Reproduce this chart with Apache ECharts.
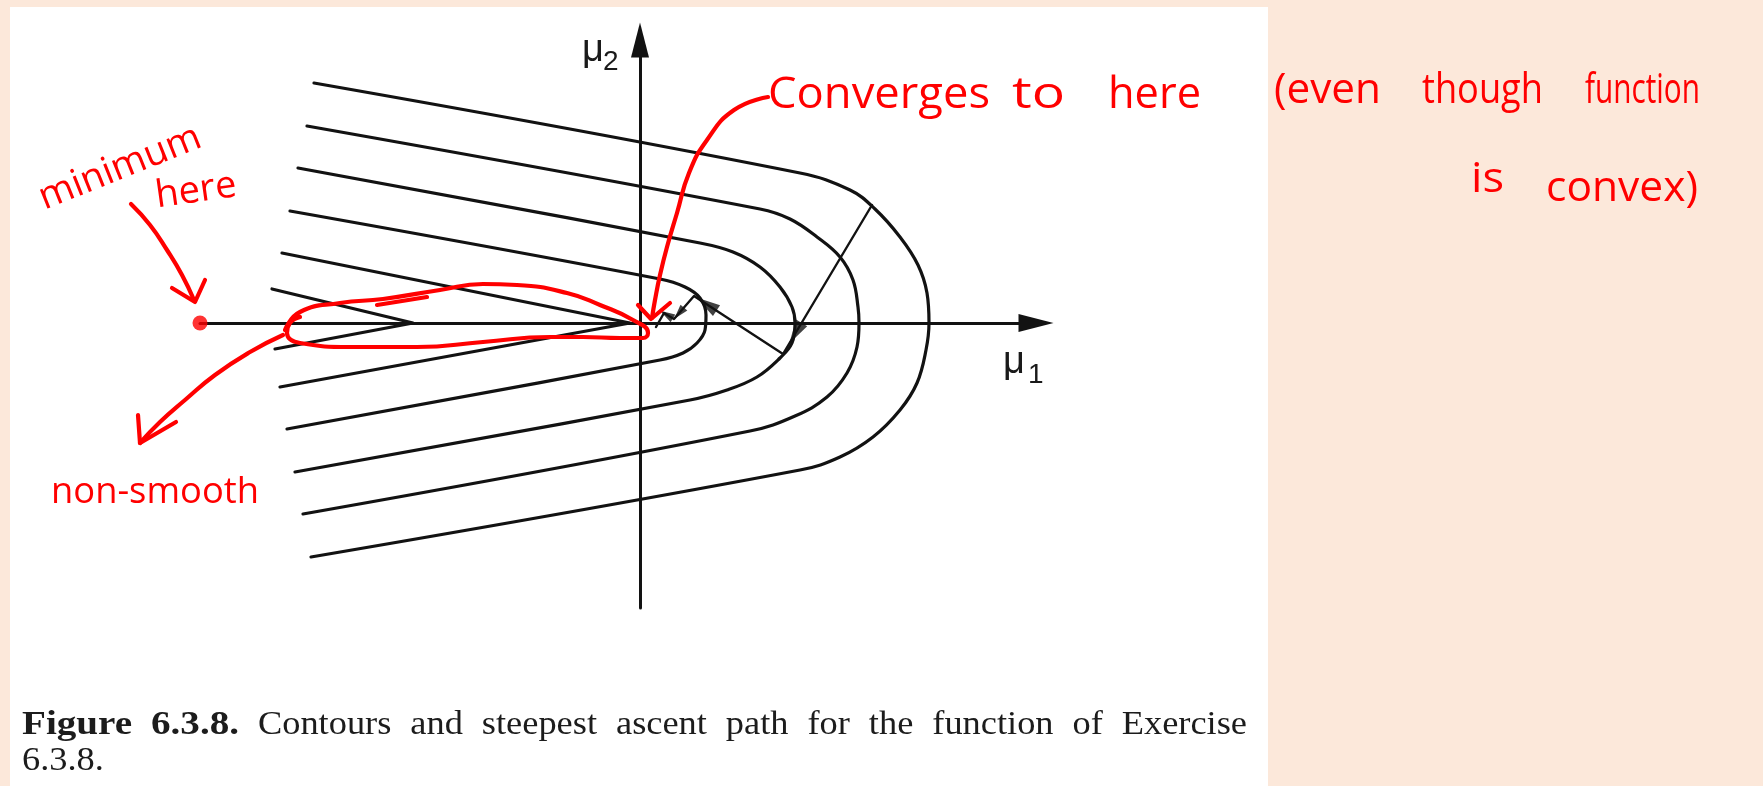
<!DOCTYPE html>
<html>
<head>
<meta charset="utf-8">
<script src="https://cdn.jsdelivr.net/npm/echarts@6/dist/echarts.min.js"></script>
<style>
  html, body { margin: 0; padding: 0; background: #fce8da; }
  #main { width: 1763px; height: 786px; }
</style>
</head>
<body>
<div id="main"></div>
<script>
// Level curves of the objective, outermost first, as [mu1, mu2] pairs.
const contour1 = [[-32.6, 24.0], [16.0, 15.0], [21.0, 13.3], [23.5, 11.4], [26.0, 8.6], [27.8, 5.8], [28.7, 3.0],
  [28.9, 0], [28.6, -2.7], [27.7, -6.0], [26.0, -8.7], [23.3, -11.4], [20.0, -13.4], [16.0, -14.7], [-32.9, -23.4]];
const contour2 = [[-33.3, 19.7], [12.0, 11.4], [15.0, 10.4], [17.7, 8.6], [20.0, 6.6], [21.3, 4.3], [21.8, 1.6],
  [21.9, 0], [21.7, -2.4], [20.7, -5.0], [18.7, -7.4], [15.5, -9.3], [11.0, -10.8], [-33.7, -19.1]];
const contour3 = [[-34.2, 15.5], [6.0, 8.0], [9.3, 7.1], [12.0, 5.6], [14.0, 3.6], [15.2, 1.6], [15.5, 0],
  [15.2, -2.0], [14.0, -3.5], [11.7, -5.4], [8.7, -6.7], [5.0, -7.7], [-34.5, -14.9]];
const contour4 = [[-35.0, 11.2], [2.0, 4.4], [4.5, 3.6], [6.0, 2.5], [6.6, 0.8], [6.5, -0.7], [5.7, -2.0],
  [4.3, -3.0], [2.0, -3.7], [-35.3, -10.6]];
// The two innermost curves meet the mu1 axis in a corner.
const contour5 = [[-35.8, 7.0], [-1.0, 0], [-36.0, -6.4]];
const contour6 = [[-36.8, 3.4], [-22.7, 0], [-36.5, -2.6]];

// Steepest ascent iterates and where each step carries its arrowhead (fraction of the step).
const ascentPath = [[23.2, 11.8], [14.3, -3.1], [5.4, 2.7], [3.4, 0.4], [2.4, 1.0], [1.6, -0.4]];
const arrowFractions = [0.86, 0.86, 0.75, 0.75];

// The true minimiser.
const minimumPoint = [-44.0, 0];

// Hand-drawn notes: strokes in the same [mu1, mu2] units.
const minimumArrow = [[-50.9, 11.9], [-49.0, 9.8], [-47.3, 7.3], [-45.8, 4.8], [-44.6, 2.3]];
const minimumArrowHead = [[-46.8, 3.5], [-44.5, 2.1], [-43.5, 4.3]];
const convergeArrow = [[12.8, 22.6], [9.4, 21.3], [6.7, 18.3], [4.9, 15.0], [3.7, 11.0], [2.7, 7.6], [2.0, 4.8],
  [1.5, 2.3], [1.2, 0.5]];
const convergeArrowHead = [[-0.2, 1.8], [1.1, 0.4], [3.0, 2.0]];
const kinkLoop = [[-35.5, -0.7], [-34.0, 1.1], [-30.0, 2.0], [-25.7, 2.4], [-20.0, 3.3], [-15.7, 3.9], [-12.3, 3.8],
  [-7.3, 3.0], [-4.0, 1.8], [-0.7, 0.3], [0.8, -1.0], [0.3, -1.5], [-2.0, -1.5], [-5.7, -1.4], [-9.0, -1.4],
  [-15.7, -1.9], [-22.3, -2.4], [-29.0, -2.4], [-34.0, -2.0], [-35.3, -1.0], [-35.0, 0], [-34.0, 0.6]];
const kinkLoopTail = [[-26.3, 1.8], [-21.3, 2.6]];
const kinkArrow = [[-35.7, -1.2], [-39.0, -2.9], [-42.5, -5.2], [-45.5, -7.7], [-48.0, -9.9], [-50.0, -12.0]];
const kinkArrowHead = [[-50.2, -9.2], [-50.0, -12.0], [-46.4, -9.9]];

// Caption words.
const captionLine1 = ['Figure', '6.3.8.', 'Contours', 'and', 'steepest', 'ascent', 'path', 'for', 'the',
  'function', 'of', 'Exercise'];
const captionLine2 = ['6.3.8.'];
const captionBoldCount = 2;

const INK = '#121212';
const PEN = '#ff0000';

function curve(data, color, width, smooth, z, overlay) {
  return {
    type: 'line', data: data, smooth: smooth, showSymbol: false, symbol: 'none',
    clip: false, silent: true, z: z,
    xAxisIndex: overlay ? 1 : 0, yAxisIndex: overlay ? 1 : 0,
    lineStyle: { color: color, width: width, cap: 'round', join: 'round' }
  };
}

// Arrowheads along the ascent path, oriented with each step.
const arrowMarks = arrowFractions.map(function (f, i) {
  const a = ascentPath[i], b = ascentPath[i + 1];
  const ang = Math.atan2(b[1] - a[1], b[0] - a[0]) * 180 / Math.PI;
  return {
    value: [a[0] + (b[0] - a[0]) * f, a[1] + (b[1] - a[1]) * f],
    symbolRotate: ang - 90,
    symbolSize: i < 2 ? [13, 24] : [9, 15]
  };
});

const series = [];
[contour1, contour2, contour3, contour4].forEach(function (c) { series.push(curve(c, INK, 3.2, 0.4, 3)); });
[contour5, contour6].forEach(function (c) { series.push(curve(c, INK, 3.2, false, 3)); });
series.push(curve(ascentPath, INK, 2.4, false, 4));
series.push({
  type: 'scatter', data: arrowMarks, symbol: 'triangle', clip: false, silent: true, z: 5,
  itemStyle: { color: INK }
});
series.push({
  type: 'scatter', data: [minimumPoint], symbol: 'circle', symbolSize: 15, clip: false, silent: true, z: 10,
  xAxisIndex: 1, yAxisIndex: 1, itemStyle: { color: PEN }
});
[minimumArrow, convergeArrow, kinkLoop, kinkArrow].forEach(function (c) { series.push(curve(c, PEN, 4.2, 0.5, 10, true)); });
[minimumArrowHead, convergeArrowHead, kinkArrowHead, kinkLoopTail].forEach(function (c) {
  series.push(curve(c, PEN, 4.2, false, 10, true));
});

const measureCtx = document.createElement('canvas').getContext('2d');
function textWidth(text, font) {
  measureCtx.font = font;
  return measureCtx.measureText(text).width;
}

// Caption, justified across the text block like the typeset original.
const CAP_FONT = '"Liberation Serif", serif';
const CAP_SIZE = 34;
const CAP_STRETCH = 1.07, CAP_BOLD_STRETCH = 1.15;
const CAP_LEFT = 22, CAP_RIGHT = 1247;
const captionGraphics = [];
(function () {
  const stretch = function (i) { return i < captionBoldCount ? CAP_BOLD_STRETCH : CAP_STRETCH; };
  const widths = captionLine1.map(function (w, i) {
    return textWidth(w, (i < captionBoldCount ? 'bold ' : '') + CAP_SIZE + 'px ' + CAP_FONT) * stretch(i);
  });
  const total = widths.reduce(function (s, v) { return s + v; }, 0);
  const gap = (CAP_RIGHT - CAP_LEFT - total) / (captionLine1.length - 1);
  let x = CAP_LEFT;
  captionLine1.forEach(function (w, i) {
    captionGraphics.push({
      type: 'text', x: x, y: 725, scaleX: stretch(i), silent: true,
      style: { text: w, fill: '#1c1c1c', fontSize: CAP_SIZE, fontFamily: CAP_FONT,
        fontWeight: i < captionBoldCount ? 'bold' : 'normal', align: 'left', verticalAlign: 'middle',
        textAlign: 'left', textVerticalAlign: 'middle' }
    });
    x += widths[i] + gap;
  });
  captionGraphics.push({
    type: 'text', x: CAP_LEFT, y: 761, scaleX: CAP_STRETCH, silent: true,
    style: { text: captionLine2.join(' '), fill: '#1c1c1c', fontSize: CAP_SIZE, fontFamily: CAP_FONT,
      align: 'left', verticalAlign: 'middle', textAlign: 'left', textVerticalAlign: 'middle' }
  });
})();

function label(text, x, y, size) {
  return {
    type: 'text', x: x, y: y, silent: true,
    style: { text: text, fill: '#1a1a1a', fontSize: size, fontFamily: '"Liberation Sans", Arial, sans-serif',
      align: 'left', verticalAlign: 'middle', textAlign: 'left', textVerticalAlign: 'middle' }
  };
}
// Handwritten words, each stretched to span from left to right.
const NOTE_FONT = '"Open Sans", sans-serif';
function note(text, left, right, y, size) {
  const w = textWidth(text, size + 'px ' + NOTE_FONT);
  return {
    type: 'text', x: left, y: y, scaleX: (right - left) / w, silent: true, z: 20,
    style: { text: text, fill: PEN, fontSize: size, fontFamily: NOTE_FONT,
      align: 'left', verticalAlign: 'middle', textAlign: 'left', textVerticalAlign: 'middle' }
  };
}
function tiltedNote(text, x, y, size, rotation) {
  return {
    type: 'text', x: x, y: y, rotation: rotation, silent: true, z: 20,
    style: { text: text, fill: PEN, fontSize: size, fontFamily: NOTE_FONT,
      align: 'center', verticalAlign: 'middle', textAlign: 'center', textVerticalAlign: 'middle' }
  };
}

const hiddenAxis = { show: false, axisLine: { show: false }, axisTick: { show: false },
  axisLabel: { show: false }, splitLine: { show: false } };

const chart = echarts.init(document.getElementById('main'), null, { renderer: 'canvas', width: 1763, height: 786 });
chart.setOption({
  animation: false,
  backgroundColor: '#fce8da',
  grid: [
    { left: 200, right: 727, top: 40, bottom: 178, containLabel: false },
    // Same units as the figure axes, spread over the whole page for the pen notes.
    { left: 0, right: 0, top: 0, bottom: 0, containLabel: false }
  ],
  xAxis: [{
    type: 'value', gridIndex: 0, min: -44, max: 39.6,
    axisLine: { onZero: true, lineStyle: { color: INK, width: 3 }, symbol: ['none', 'triangle'], symbolSize: [18, 35] },
    axisTick: { show: false }, axisLabel: { show: false }, splitLine: { show: false }
  }, Object.assign({ type: 'value', gridIndex: 1, min: -64, max: 112.3 }, hiddenAxis)],
  yAxis: [{
    type: 'value', gridIndex: 0, min: -28.5, max: 28.3,
    axisLine: { onZero: true, lineStyle: { color: INK, width: 3 }, symbol: ['none', 'triangle'], symbolSize: [18, 35] },
    axisTick: { show: false }, axisLabel: { show: false }, splitLine: { show: false }
  }, Object.assign({ type: 'value', gridIndex: 1, min: -46.3, max: 32.3 }, hiddenAxis)],
  graphic: [
    { type: 'rect', z: -100, silent: true, shape: { x: 10, y: 7, width: 1258, height: 779 }, style: { fill: '#ffffff' } },
    label('\u03bc', 582, 51, 38),
    label('2', 603, 62, 28),
    label('\u03bc', 1003, 363, 38),
    label('1', 1028, 375, 28),
    note('Converges', 768, 990, 95, 44),
    note('to', 1012, 1065, 95, 44),
    note('here', 1108, 1201, 95, 44),
    note('(even', 1274, 1381, 91, 42),
    note('though', 1422, 1543, 91, 42),
    note('function', 1585, 1700, 91, 42),
    note('is', 1471, 1504, 180, 42),
    note('convex)', 1546, 1698, 189, 42),
    note('non-smooth', 51, 259, 493, 36),
    tiltedNote('minimum', 120, 168, 38, 0.38),
    tiltedNote('here', 196, 191, 38, 0.14)
  ].concat(captionGraphics),
  series: series
});
</script>
</body>
</html>
